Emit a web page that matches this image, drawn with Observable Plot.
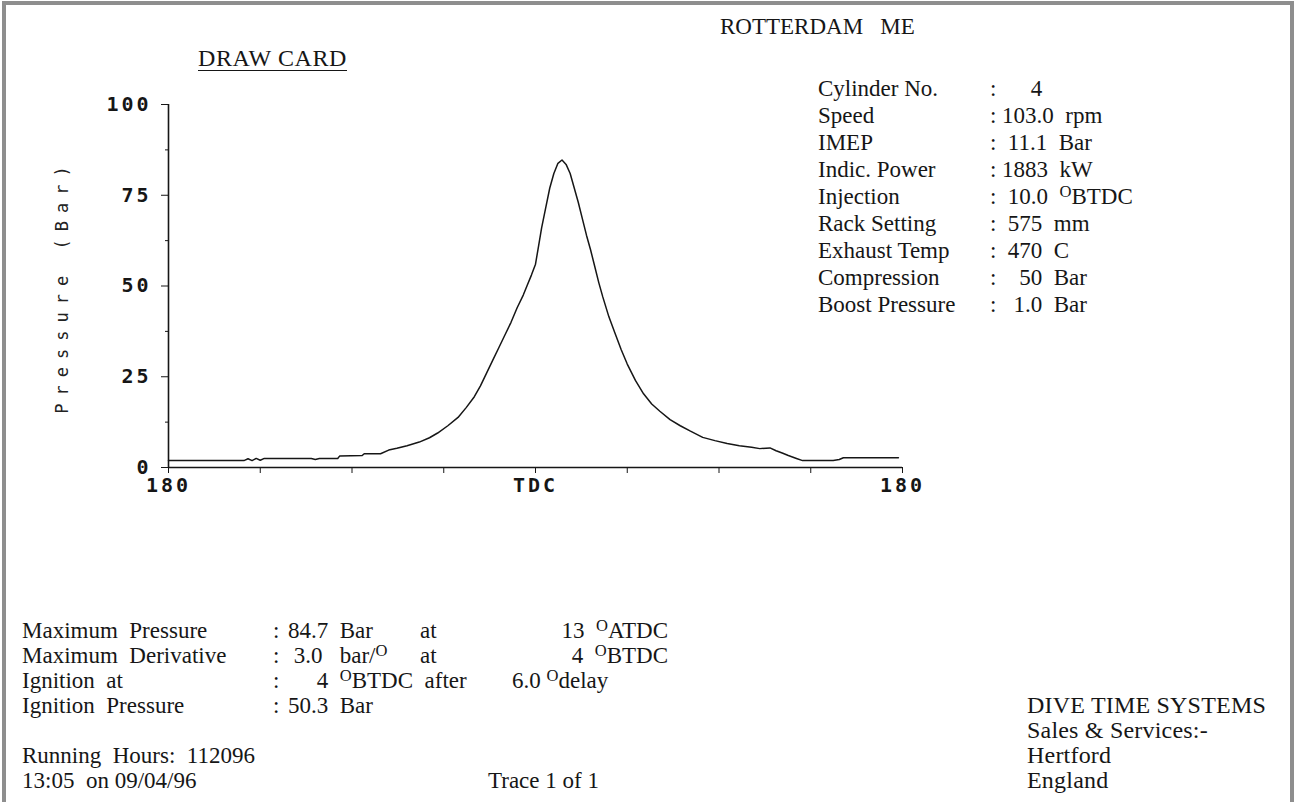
<!DOCTYPE html>
<html><head><meta charset="utf-8">
<script src="https://cdn.jsdelivr.net/npm/d3@7"></script>
<script src="https://cdn.jsdelivr.net/npm/@observablehq/plot@0.6"></script>
<style>
html,body{margin:0;padding:0;background:#fff;}
#page{position:relative;width:1296px;height:802px;overflow:hidden;background:#fff;font-family:"Liberation Serif","Times New Roman",serif;color:#161616;}
#frame{position:absolute;left:2px;top:1px;width:1284px;height:830px;border:4px solid #8e8e8e;border-bottom:none;}
.t{position:absolute;white-space:pre;line-height:1;}
.sup{font-size:0.72em;position:relative;top:-0.42em;}
#chart{position:absolute;left:0;top:0;}
</style></head><body><div id="page"><div id="frame"></div><div id="chart"></div></div>
<script>
// ---- data read from the card ----
const crankAngle = [-180,-150,-143,-141,-139,-137,-135,-133,-131,-110,-108,-106,-97,-96,-85,-84,-76,-72,-68,-63,-57,-52,-48,-43,-38,-34,-30,-27,-24,-21,-18,-15,-12,-9,-6,-4,-2,0,1.5,3,5,7,9,11,13,15,17,19,21,23,25,27,29,31,33,36,39,42,45,49,53,57,61,66,71,76,82,88,94,100,106,110,115,118,121,124,128,131,146,149,151,178];
const pressure = [1.9,1.9,1.9,2.4,1.9,2.5,2.0,2.5,2.5,2.5,2.2,2.5,2.5,3.2,3.3,3.8,3.8,4.8,5.3,6.0,7.0,8.2,9.5,11.5,13.8,16.5,19.5,22.5,26,29.5,33,36.5,40,44,47.5,50.3,53,56,61,66,71.5,77,81,83.8,84.7,83.5,81,77,73,68.5,64,60,55.5,51,47,41.5,37,32.5,28.5,24,20.3,17.5,15.5,13.2,11.5,10,8.3,7.4,6.6,6.0,5.6,5.2,5.4,4.6,4.0,3.3,2.5,1.9,1.9,2.2,2.7,2.7];
const xTickValues = [-180,-135,-90,-45,0,45,90,135,180];
const xTickLabels = ["180","","","","TDC","","","","180"];
const yTickValues = [0,25,50,75,100];
const yMinorTicks = [12.5,37.5,62.5,87.5];
const engineTitle = "ROTTERDAM   ME";
const cardTitle = "DRAW CARD";
const yAxisTitle = "Pressure (Bar)";
const engineLabels = ["Cylinder No.","Speed","IMEP","Indic. Power","Injection","Rack Setting","Exhaust Temp","Compression","Boost Pressure"];
const engineValues = ["     4","103.0  rpm"," 11.1  Bar","1883  kW"," 10.0  ^OBTDC"," 575  mm"," 470  C","   50  Bar","  1.0  Bar"];
const resultLabels = ["Maximum  Pressure","Maximum  Derivative","Ignition  at","Ignition  Pressure"];
const resultValues = ["84.7  Bar"," 3.0   bar/^O","     4  ^OBTDC  after","50.3  Bar"];
const resultAt = ["at","at","",""];
const resultAngles = ["13  ^OATDC","4  ^OBTDC","6.0 ^Odelay",""];
const footerLeft = ["Running  Hours:  112096","13:05  on 09/04/96"];
const traceText = "Trace 1 of 1";
const companyLines = ["DIVE TIME SYSTEMS","Sales & Services:-","Hertford","England"];

// ---- chart ----
const data = crankAngle.map((a, i) => ({angle: a, p: pressure[i]}));
const chart = Plot.plot({
  width: 1296, height: 520,
  marginLeft: 168, marginRight: 394, marginTop: 104, marginBottom: 53,
  style: {fontFamily: "'DejaVu Sans Mono', monospace", fontSize: "20px", color: "#161616", background: "transparent", overflow: "visible"},
  x: {domain: [-180, 180]},
  y: {domain: [0, 100]},
  marks: [
    Plot.axisY({ticks: yMinorTicks, tickSize: 3, tickFormat: () => "", label: null}),
    Plot.axisY({ticks: yTickValues, tickSize: 7, tickPadding: 10, tickFormat: d => String(d), label: null}),
    Plot.axisX({ticks: xTickValues, tickSize: 6, tickPadding: 4, tickFormat: d => xTickLabels[xTickValues.indexOf(d)], label: null}),
    Plot.ruleX([-180], {y1: 0, y2: 100, stroke: "#161616", strokeWidth: 1.6}),
    Plot.ruleY([0], {x1: -180, x2: 180, stroke: "#161616", strokeWidth: 1.6}),
    Plot.line(data, {x: "angle", y: "p", stroke: "#161616", strokeWidth: 1.5}),
    Plot.text([yAxisTitle], {frameAnchor: "left", textAnchor: "middle", rotate: -90, dx: -106, fontSize: 17, fill: "#222"})
  ]
});
document.getElementById("chart").appendChild(chart);
d3.select(chart).selectAll("text").each(function() {
  const s = d3.select(this);
  if (s.text() === yAxisTitle) s.style("letter-spacing", "8px");
  else s.style("letter-spacing", "3px").style("font-weight", "600");
});

// ---- text blocks ----
const page = document.getElementById("page");
function place(str, x, yc, opts = {}) {
  const fs = opts.size || 23;
  const el = document.createElement("div");
  el.className = "t";
  el.innerHTML = str.replace(/\^O/g, '<span class="sup">O</span>');
  el.style.fontSize = fs + "px";
  el.style.left = x + "px";
  el.style.top = (yc - 0.49 * fs) + "px";
  if (opts.spacing) el.style.letterSpacing = opts.spacing + "px";
  if (opts.anchor === "end") { el.style.left = "auto"; el.style.right = (1296 - x) + "px"; }
  if (opts.underline) { el.style.borderBottom = "1.5px solid #161616"; el.style.paddingBottom = "0px"; }
  page.appendChild(el);
}
place(engineTitle, 720, 26, {size: 23});
place(cardTitle, 198, 58, {size: 24, spacing: 0.6, underline: true});
engineLabels.forEach((l, i) => {
  const yc = 88 + i * 27;
  place(l, 818, yc);
  place(":", 990, yc);
  place(engineValues[i], 1002, yc);
});
const b0 = 630, bs = 25;
resultLabels.forEach((l, i) => {
  const yc = b0 + i * bs;
  place(l, 22, yc);
  place(":", 273, yc);
  place(resultValues[i], 288, yc);
  if (resultAt[i]) place(resultAt[i], 420, yc);
  if (resultAngles[i]) {
    if (i < 2) place(resultAngles[i], 668, yc, {anchor: "end"});
    else place(resultAngles[i], 512, yc);
  }
});
place(footerLeft[0], 22, b0 + 5 * bs);
place(footerLeft[1], 22, b0 + 6 * bs);
place(traceText, 488, b0 + 6 * bs);
companyLines.forEach((l, i) => place(l, 1027, b0 + (3 + i) * bs, {size: 24, spacing: 0.2}));
</script></body></html>
